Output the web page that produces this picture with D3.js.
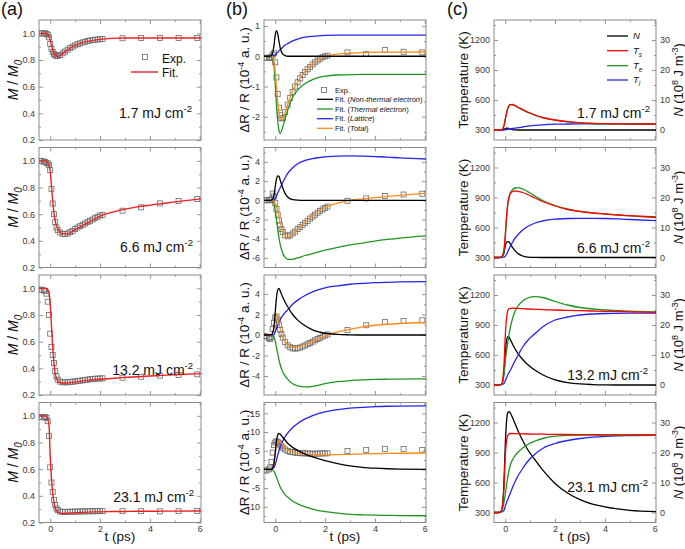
<!DOCTYPE html>
<html><head><meta charset="utf-8">
<script src="https://cdn.jsdelivr.net/npm/d3@7"></script>
<style>body{margin:0;background:#fff} svg{display:block} text{font-family:"Liberation Sans",Arial,sans-serif}</style>
</head><body><svg id="c" width="685" height="549"></svg>
<script>
// ---------- sampling times ----------
const fitT = [-0.45,-0.25,-0.15,-0.05,0,0.05,0.1,0.15,0.2,0.3,0.4,0.5,0.7,0.9,1.2,1.5,2,2.5,3,3.5,4,4.5,5,6.05];
const expT = [-0.45,-0.35,-0.25,-0.2,-0.15,-0.1,-0.05,0,0.05,0.1,0.15,0.2,0.25,0.3,0.4,0.5,0.6,0.7,0.8,0.9,1.0,1.1,1.2,1.3,1.4,1.5,1.6,1.7,1.8,1.9,2.0,2.1,2.9,3.65,4.4,5.15,5.9];
const fluences = ["1.7","6.6","13.2","23.1"];
const xTicks = [0,2,4,6];
const xMinorTicks = [1,3,5];

// ---------- (a) M/M0 ----------
const magExp17 = [1.0,1.0,1.0,1.0,0.995,0.99,0.97,0.92,0.885,0.86,0.845,0.835,0.83,0.83,0.838,0.85,0.863,0.877,0.89,0.9,0.91,0.918,0.925,0.932,0.937,0.942,0.946,0.949,0.952,0.954,0.956,0.958,0.963,0.965,0.965,0.965,0.965];
const magFit17 = [1.0,1.0,0.998,0.98,0.95,0.91,0.875,0.85,0.835,0.828,0.835,0.85,0.875,0.9,0.925,0.94,0.955,0.962,0.965,0.965,0.965,0.965,0.965,0.965];
const magExp66 = [1.0,1.0,0.995,0.99,0.985,0.98,0.97,0.93,0.79,0.68,0.6,0.54,0.5,0.48,0.463,0.452,0.45,0.455,0.465,0.475,0.488,0.5,0.51,0.52,0.53,0.54,0.55,0.56,0.57,0.58,0.59,0.595,0.626,0.651,0.681,0.699,0.714];
const magFit66 = [1.0,1.0,0.995,0.97,0.92,0.81,0.7,0.61,0.55,0.49,0.463,0.452,0.452,0.472,0.505,0.535,0.585,0.615,0.638,0.655,0.668,0.68,0.692,0.715];
const magExp132 = [0.99,0.99,0.985,0.98,0.96,0.9,0.8,0.66,0.56,0.5,0.44,0.38,0.34,0.315,0.3,0.295,0.295,0.295,0.298,0.3,0.302,0.305,0.307,0.31,0.312,0.315,0.318,0.32,0.322,0.323,0.324,0.325,0.33,0.337,0.345,0.35,0.355];
const magFit132 = [1.0,1.0,0.998,0.97,0.88,0.72,0.56,0.44,0.36,0.305,0.292,0.29,0.29,0.295,0.302,0.31,0.318,0.325,0.332,0.337,0.342,0.347,0.352,0.36];
const magExp231 = [0.99,0.99,0.99,0.99,0.985,0.96,0.85,0.614,0.5,0.43,0.37,0.331,0.305,0.293,0.282,0.28,0.28,0.28,0.281,0.281,0.282,0.282,0.283,0.283,0.283,0.284,0.284,0.284,0.285,0.285,0.285,0.285,0.285,0.285,0.284,0.285,0.286];
const magFit231 = [1.0,1.0,0.995,0.93,0.7,0.53,0.42,0.35,0.31,0.28,0.27,0.268,0.27,0.272,0.275,0.278,0.28,0.282,0.283,0.284,0.284,0.285,0.285,0.286];

// ---------- (b) dR/R ----------
const rExp17 = [-0.05,-0.05,-0.05,-0.05,-0.03,0.05,0.1,-0.2,-0.7,-1.25,-1.7,-1.95,-2.05,-2.05,-1.85,-1.6,-1.38,-1.18,-1.0,-0.86,-0.73,-0.62,-0.52,-0.43,-0.35,-0.27,-0.2,-0.14,-0.08,-0.03,0.0,0.02,0.13,0.07,0.21,0.15,0.13];
const rNon17 = [0,0,0.02,0.35,0.7,0.85,0.75,0.5,0.28,0.07,0.02,0,0,0,0,0,0,0,0,0,0,0,0,0];
const rThe17 = [0,0,-0.02,-0.3,-0.9,-1.6,-2.15,-2.45,-2.55,-2.35,-2.05,-1.78,-1.35,-1.12,-0.9,-0.77,-0.66,-0.62,-0.61,-0.6,-0.6,-0.6,-0.6,-0.6];
const rLat17 = [0,0,0,0.02,0.05,0.09,0.13,0.18,0.22,0.3,0.37,0.42,0.51,0.57,0.63,0.66,0.69,0.7,0.7,0.7,0.7,0.7,0.7,0.7];
const rTot17 = [0,0,0,-0.15,-0.5,-1.0,-1.5,-1.85,-2.05,-2.1,-1.85,-1.6,-1.15,-0.85,-0.5,-0.25,0.0,0.07,0.1,0.12,0.13,0.14,0.14,0.15];

const rExp66 = [0,0,0.05,0,0.1,0.7,0.4,-0.3,-0.9,-1.5,-2.1,-2.6,-3.0,-3.3,-3.65,-3.75,-3.65,-3.45,-3.25,-3.0,-2.8,-2.55,-2.35,-2.15,-1.9,-1.7,-1.5,-1.3,-1.1,-0.95,-0.8,-0.65,-0.05,0.2,0.45,0.6,0.68];
const rNon66 = [0,0,0.02,0.5,1.4,2.2,2.55,2.5,2.1,1.3,0.7,0.35,0.08,0.02,0,0,0,0,0,0,0,0,0,0];
const rThe66 = [0,0,0,-0.3,-1.0,-2.0,-3.0,-3.9,-4.6,-5.5,-5.95,-6.15,-6.15,-6.0,-5.75,-5.55,-5.2,-4.9,-4.65,-4.45,-4.25,-4.08,-3.93,-3.7];
const rLat66 = [0,0,0,0.05,0.2,0.45,0.75,1.05,1.3,1.85,2.35,2.8,3.4,3.8,4.15,4.35,4.52,4.6,4.62,4.6,4.55,4.5,4.42,4.3];
const rTot66 = [0,0,0,-0.1,-0.3,-0.7,-1.1,-1.7,-2.3,-3.2,-3.7,-3.85,-3.5,-3.0,-2.3,-1.6,-0.75,-0.3,0.0,0.15,0.27,0.4,0.52,0.72];

const rExp132 = [-0.1,-0.15,-0.3,-0.4,-0.2,0.6,1.2,1.7,1.8,1.5,1.0,0.5,0.1,-0.25,-0.7,-1.0,-1.2,-1.3,-1.32,-1.3,-1.22,-1.12,-1.02,-0.9,-0.78,-0.65,-0.52,-0.4,-0.28,-0.15,-0.05,0.05,0.49,0.95,1.27,1.37,1.43];
const rNon132 = [0,0,0.05,0.8,2.2,3.6,4.4,4.55,4.3,3.7,3.2,2.75,2.0,1.45,0.9,0.5,0.17,0.06,0.02,0,0,0,0,0];
const rThe132 = [0,0,0,-0.2,-0.6,-1.2,-1.8,-2.4,-2.9,-3.6,-4.0,-4.3,-4.75,-4.95,-5.05,-5.0,-4.75,-4.55,-4.45,-4.38,-4.33,-4.31,-4.3,-4.28];
const rLat132 = [0,0,0,0.05,0.3,0.6,0.95,1.25,1.5,1.9,2.2,2.45,3.0,3.4,3.85,4.2,4.6,4.8,4.95,5.03,5.1,5.14,5.17,5.2];
const rTot132 = [0,0,0.05,0.6,1.6,2.0,1.8,1.2,0.6,-0.2,-0.65,-0.95,-1.2,-1.15,-0.95,-0.65,-0.1,0.3,0.55,0.8,0.95,1.05,1.12,1.22];

const rExp231 = [-0.3,-0.3,0,0.5,2.0,4.5,6.5,7.2,7.5,7.3,7.0,6.6,6.2,5.8,5.3,4.9,4.7,4.6,4.5,4.4,4.35,4.3,4.3,4.25,4.25,4.2,4.2,4.25,4.25,4.3,4.3,4.3,4.9,5.2,5.5,5.5,5.2];
const rNon231 = [0,0,0.1,1.5,4.5,7.5,9.2,9.65,9.4,8.6,7.8,7.0,5.9,5.1,4.1,3.35,2.35,1.55,0.95,0.55,0.32,0.18,0.1,0.03];
const rThe231 = [0,0,-0.1,-0.5,-1.2,-2.0,-3.0,-3.9,-4.7,-5.9,-6.8,-7.4,-8.5,-9.2,-10.0,-10.6,-11.3,-11.7,-12.0,-12.15,-12.25,-12.3,-12.35,-12.4];
const rLat231 = [0,0,0.1,0.5,1.3,2.5,3.8,5.0,6.0,7.6,8.8,9.7,11.2,12.3,13.5,14.4,15.4,16.0,16.4,16.6,16.8,16.9,16.95,17.0];
const rTot231 = [0,0,0.2,1.5,4.0,6.2,7.4,7.7,7.4,6.6,5.8,5.2,4.6,4.3,4.1,4.0,3.9,3.95,4.05,4.15,4.22,4.28,4.33,4.4];

// ---------- (c) temperatures (K) and N (10^8 J m^-3) ----------
const nC17 = [0,0,0.05,0.2,0.45,0.6,0.6,0.5,0.35,0.15,0.05,0,0,0,0,0,0,0,0,0,0,0,0,0];
const tsC17 = [300,300,302,340,400,460,510,540,553,555,545,530,505,480,450,425,400,383,372,366,363,362,361,360];
const teC17 = [300,300,302,345,410,470,518,545,553,552,540,525,500,476,447,423,398,382,371,365,362,361,360,360];
const tlC17 = [300,300,300,300,302,304,307,309,311,315,319,322,330,338,346,352,358,360,361,361,361,361,360,360];

const nC66 = [0,0,0.1,1.5,3.8,5.0,5.3,5.2,4.6,3.3,2.2,1.4,0.5,0.15,0.03,0,0,0,0,0,0,0,0,0];
const tsC66 = [300,300,305,380,520,700,830,900,935,960,965,962,950,930,895,860,815,780,760,745,735,725,718,705];
const teC66 = [300,300,303,360,490,680,820,900,945,980,995,998,985,960,915,870,820,785,762,747,736,726,717,700];
const tlC66 = [300,300,300,303,312,330,355,385,410,455,495,525,575,610,645,665,683,690,692,692,690,686,680,668];

const nC132 = [0,0,0.2,4,10,14.5,16,16,15.2,13.5,12,10.6,8.5,6.8,4.9,3.4,1.7,0.8,0.35,0.15,0.05,0,0,0];
const tsC132 = [300,300,310,500,780,960,1040,1062,1067,1068,1067,1066,1063,1060,1057,1054,1050,1046,1043,1040,1037,1035,1032,1027];
const teC132 = [300,300,305,400,540,630,720,800,870,970,1040,1085,1140,1170,1183,1175,1135,1100,1075,1060,1050,1043,1038,1032];
const tlC132 = [300,300,303,315,340,370,400,425,445,495,545,590,680,745,815,880,950,980,1000,1010,1015,1017,1018,1018];

const nC231 = [0,0,0.5,10,22,30,33.2,33.6,33.2,31.5,29.5,27.5,24,21,17.5,14.2,9.7,6.5,4.3,2.8,1.9,1.2,0.7,0.3];
const tsC231 = [300,300,320,550,850,1010,1070,1085,1090,1090,1089,1088,1086,1085,1084,1083,1081,1080,1079,1078,1077,1076,1076,1075];
const teC231 = [300,300,310,400,480,570,650,720,770,830,870,900,945,980,1015,1040,1063,1072,1075,1075,1075,1075,1075,1075];
const tlC231 = [300,300,305,320,360,395,430,460,490,555,610,660,740,810,885,940,990,1020,1040,1053,1062,1067,1069,1071];

// ---------- layout ----------
const svg = d3.select('#c');
const W = 162, H = 120;
const colX = [39, 264, 494];
const rowY = [20, 147.5, 275, 402.5];
const xDom = [-0.45, 6.05];
const FRAME = '#8a8a8a', TICKTXT = '#3a3a3a';
const C = {red:'#f01e1e', green:'#1f961f', blue:'#2424f2', orange:'#ff8c1a', black:'#000', exp:'#6a6a6a'};

const defs = svg.append('defs');
defs.append('clipPath').attr('id','clipP').append('rect').attr('x',0).attr('y',0).attr('width',W).attr('height',H);

function styleAxis(sel){
  sel.select('.domain').remove();
  sel.selectAll('.tick line').attr('stroke', FRAME).attr('stroke-width',0.9);
  sel.selectAll('.tick text').attr('fill', TICKTXT).attr('font-size', 9).attr('font-family','"Liberation Sans",Arial,sans-serif');
}
function fmtNum(d){ return String(d); }

function makePanel(col,row,y,yT,yMinor,yFmt,opts){
  const g = svg.append('g').attr('transform',`translate(${colX[col]},${rowY[row]})`);
  const x = d3.scaleLinear().domain(xDom).range([0,W]);
  const showX = row===3;
  g.append('g').attr('transform',`translate(0,${H})`).call(d3.axisBottom(x).tickValues(xTicks).tickSizeInner(-4).tickSizeOuter(0).tickPadding(3).tickFormat(showX?fmtNum:()=>'')).call(styleAxis);
  g.append('g').attr('transform',`translate(0,${H})`).call(d3.axisBottom(x).tickValues(xMinorTicks).tickSizeInner(-2).tickSizeOuter(0).tickFormat(()=>'')).call(styleAxis);
  g.append('g').call(d3.axisTop(x).tickValues(xTicks).tickSizeInner(-4).tickSizeOuter(0).tickFormat(()=>'')).call(styleAxis);
  g.append('g').call(d3.axisTop(x).tickValues(xMinorTicks).tickSizeInner(-2).tickSizeOuter(0).tickFormat(()=>'')).call(styleAxis);
  g.append('g').call(d3.axisLeft(y).tickValues(yT).tickSizeInner(-4).tickSizeOuter(0).tickPadding(4).tickFormat(yFmt)).call(styleAxis);
  g.append('g').call(d3.axisLeft(y).tickValues(yMinor).tickSizeInner(-2).tickSizeOuter(0).tickFormat(()=>'')).call(styleAxis);
  if(opts && opts.y2){
    g.append('g').attr('transform',`translate(${W},0)`).call(d3.axisRight(opts.y2).tickValues(opts.y2T).tickSizeInner(-4).tickSizeOuter(0).tickPadding(4).tickFormat(fmtNum)).call(styleAxis);
    g.append('g').attr('transform',`translate(${W},0)`).call(d3.axisRight(opts.y2).tickValues(opts.y2Minor).tickSizeInner(-2).tickSizeOuter(0).tickFormat(()=>'')).call(styleAxis);
  } else {
    g.append('g').attr('transform',`translate(${W},0)`).call(d3.axisRight(y).tickValues(yT).tickSizeInner(-4).tickSizeOuter(0).tickFormat(()=>'')).call(styleAxis);
    g.append('g').attr('transform',`translate(${W},0)`).call(d3.axisRight(y).tickValues(yMinor).tickSizeInner(-2).tickSizeOuter(0).tickFormat(()=>'')).call(styleAxis);
  }
  g.append('rect').attr('x',0).attr('y',0).attr('width',W).attr('height',H).attr('fill','none').attr('stroke',FRAME).attr('stroke-width',1);
  const plot = g.append('g').attr('clip-path','url(#clipP)');
  return {g, x, plot};
}

function drawLine(p, y, vals, color, w){
  const line = d3.line().x((d,i)=>p.x(fitT[i])).y(d=>y(d)).curve(d3.curveMonotoneX);
  p.plot.append('path').attr('d', line(vals)).attr('fill','none').attr('stroke',color).attr('stroke-width',w||1.3);
}
function drawExp(p, y, vals){
  p.plot.selectAll(null).data(vals).enter().append('rect')
    .attr('x',(d,i)=>p.x(expT[i])-2.5).attr('y',d=>y(d)-2.5).attr('width',5).attr('height',5)
    .attr('fill','none').attr('stroke',C.exp).attr('stroke-width',0.8);
}
function fluenceLabel(g, xr, yb, txt){
  const t = g.append('text').attr('x',xr).attr('y',yb).attr('text-anchor','end').attr('font-size',14).attr('fill','#111');
  t.append('tspan').text(txt + ' mJ cm');
  t.append('tspan').attr('dy',-6).attr('font-size',9.5).text('-2');
}

// ---------- column (a) ----------
const magExp = [magExp17, magExp66, magExp132, magExp231];
const magFit = [magFit17, magFit66, magFit132, magFit231];
const magLbl = [[192,118],[193,251.5],[193,375],[194,501.5]];
magExp.forEach((ev,r)=>{
  const y = d3.scaleLinear().domain([0.2,1.1]).range([H,0]);
  const p = makePanel(0,r,y,[0.2,0.4,0.6,0.8,1.0],[0.3,0.5,0.7,0.9],d=>d.toFixed(1));
  drawExp(p,y,ev);
  drawLine(p,y,magFit[r],C.red,1.4);
  fluenceLabel(svg, magLbl[r][0], magLbl[r][1], fluences[r]);
  const cy = rowY[r] + H/2;
  const t = svg.append('text').attr('transform',`translate(18,${cy}) rotate(-90)`).attr('text-anchor','middle').attr('font-size',14).attr('fill','#111');
  t.append('tspan').attr('font-style','italic').text('M');
  t.append('tspan').text(' / ');
  t.append('tspan').attr('font-style','italic').text('M');
  t.append('tspan').attr('font-style','italic').attr('dy',4).attr('font-size',10).text('0');
});
svg.append('rect').attr('x',142.5).attr('y',54.5).attr('width',5).attr('height',5).attr('fill','none').attr('stroke',C.exp).attr('stroke-width',0.8);
svg.append('text').attr('x',162).attr('y',62.5).attr('font-size',12).attr('fill','#111').text('Exp.');
svg.append('line').attr('x1',131).attr('x2',158).attr('y1',72).attr('y2',72).attr('stroke',C.red).attr('stroke-width',1.4);
svg.append('text').attr('x',162).attr('y',77).attr('font-size',12).attr('fill','#111').text('Fit.');

// ---------- column (b) ----------
const rSets = [
  {exp:rExp17, non:rNon17, the:rThe17, lat:rLat17, tot:rTot17, dom:[-2.77,1.2], t:[-2,-1,0,1], m:[-2.5,-1.5,-0.5,0.5]},
  {exp:rExp66, non:rNon66, the:rThe66, lat:rLat66, tot:rTot66, dom:[-7,5.5], t:[-6,-4,-2,0,2,4], m:[-5,-3,-1,1,3,5]},
  {exp:rExp132, non:rNon132, the:rThe132, lat:rLat132, tot:rTot132, dom:[-5.85,5.85], t:[-4,-2,0,2,4], m:[-5,-3,-1,1,3,5]},
  {exp:rExp231, non:rNon231, the:rThe231, lat:rLat231, tot:rTot231, dom:[-14.2,17.9], t:[-10,-5,0,5,10,15], m:[-12.5,-7.5,-2.5,2.5,7.5,12.5,17.5]}
];
rSets.forEach((s,r)=>{
  const y = d3.scaleLinear().domain(s.dom).range([H,0]);
  const p = makePanel(1,r,y,s.t,s.m,fmtNum);
  drawExp(p,y,s.exp);
  drawLine(p,y,s.the,C.green);
  drawLine(p,y,s.lat,C.blue);
  drawLine(p,y,s.tot,C.orange);
  drawLine(p,y,s.non,C.black);
  const cy = rowY[r] + H/2;
  const t = svg.append('text').attr('transform',`translate(249,${cy}) rotate(-90)`).attr('text-anchor','middle').attr('font-size',13.5).attr('fill','#111');
  t.append('tspan').text('ΔR / R (10');
  t.append('tspan').attr('dy',-5).attr('font-size',9).text('-4');
  t.append('tspan').attr('dy',5).text(' a. u.)');
});
{
  const lg = svg.append('g');
  lg.append('rect').attr('x',321.5).attr('y',87.5).attr('width',5).attr('height',5).attr('fill','none').attr('stroke',C.exp).attr('stroke-width',0.8);
  lg.append('text').attr('x',335).attr('y',92.7).attr('font-size',7.5).attr('fill','#111').text('Exp.');
  const items = [['Non-thermal electron',C.black,99.3],['Thermal electron',C.green,109],['Lattice',C.blue,118.7],['Total',C.orange,128.3]];
  items.forEach(([lab,col,yy])=>{
    lg.append('line').attr('x1',317).attr('x2',333).attr('y1',yy).attr('y2',yy).attr('stroke',col).attr('stroke-width',1.3);
    const t = lg.append('text').attr('x',335).attr('y',yy+2.7).attr('font-size',7.5).attr('fill','#111');
    t.append('tspan').text('Fit. (');
    t.append('tspan').attr('font-style','italic').text(lab);
    t.append('tspan').text(')');
  });
}

// ---------- column (c) ----------
const cSets = [
  {n:nC17, ts:tsC17, te:teC17, tl:tlC17},
  {n:nC66, ts:tsC66, te:teC66, tl:tlC66},
  {n:nC132, ts:tsC132, te:teC132, tl:tlC132},
  {n:nC231, ts:tsC231, te:teC231, tl:tlC231}
];
const cLbl = [[650,117.5],[650,252.5],[648,380],[648,491.5]];
cSets.forEach((s,r)=>{
  const y = d3.scaleLinear().domain([200,1400]).range([H,0]);
  const yN = d3.scaleLinear().domain([-10/3,110/3]).range([H,0]);
  const p = makePanel(2,r,y,[300,600,900,1200],[450,750,1050,1350],fmtNum,{y2:yN,y2T:[0,10,20,30],y2Minor:[5,15,25,35]});
  drawLine(p,yN,s.n,C.black);
  drawLine(p,y,s.tl,C.blue);
  drawLine(p,y,s.te,C.green);
  drawLine(p,y,s.ts,'#ff0000');
  fluenceLabel(svg, cLbl[r][0], cLbl[r][1], fluences[r]);
  const cy = rowY[r] + H/2;
  svg.append('text').attr('transform',`translate(468,${cy}) rotate(-90)`).attr('text-anchor','middle').attr('font-size',13.5).attr('fill','#111').text('Temperature (K)');
  const t = svg.append('text').attr('transform',`translate(683,${cy}) rotate(-90)`).attr('text-anchor','middle').attr('font-size',13).attr('fill','#111');
  t.append('tspan').attr('font-style','italic').text('N');
  t.append('tspan').text(' (10');
  t.append('tspan').attr('dy',-5).attr('font-size',9).text('8');
  t.append('tspan').attr('dy',5).text(' J m');
  t.append('tspan').attr('dy',-5).attr('font-size',9).text('-3');
  t.append('tspan').attr('dy',5).text(')');
});
{
  const lg = svg.append('g');
  const items = [['N','',C.black,36],['T','s','#ff0000',50.7],['T','e',C.green,65.7],['T','l',C.blue,80]];
  items.forEach(([a,b,col,yy])=>{
    lg.append('line').attr('x1',607).attr('x2',628).attr('y1',yy).attr('y2',yy).attr('stroke',col).attr('stroke-width',1.3);
    const t = lg.append('text').attr('x',633).attr('y',yy+3.3).attr('font-size',9.5).attr('font-style','italic').attr('fill','#111');
    t.append('tspan').text(a);
    if(b) t.append('tspan').attr('dy',2.5).attr('font-size',6.5).text(b);
  });
}

// ---------- x titles & panel labels ----------
colX.forEach(cx=>{
  svg.append('text').attr('x',cx+W/2).attr('y',541).attr('text-anchor','middle').attr('font-size',13.5).attr('fill','#111').text('t (ps)');
});
[['(a)',1],['(b)',226],['(c)',447]].forEach(([s,x])=>{
  svg.append('text').attr('x',x).attr('y',15).attr('font-size',18).attr('fill','#111').text(s);
});
</script></body></html>
